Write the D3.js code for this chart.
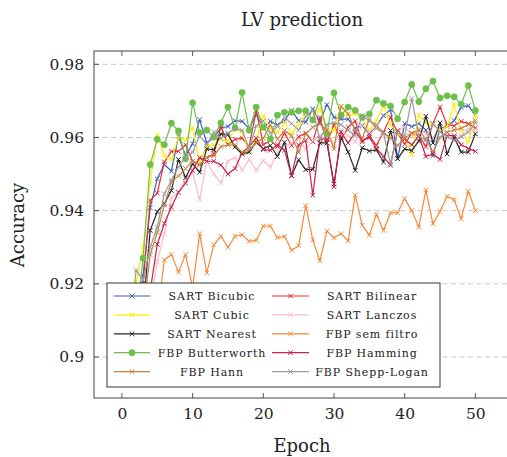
<!DOCTYPE html>
<html>
<head>
<meta charset="utf-8">
<script src="https://cdn.jsdelivr.net/npm/d3@7/dist/d3.min.js"></script>
<style>
  html, body { margin: 0; padding: 0; background: #fff; }
  svg { display: block; }
  text { font-family: "DejaVu Serif", serif; fill: #222; }
</style>
</head>
<body>
<svg id="chart" width="507" height="457"></svg>
<script>
// Training epochs 1..50
const epochs = d3.range(1, 51);

const sartBicubic = [0.900,0.908,0.9224,0.9408,0.9487,0.9526,0.9508,0.9604,0.9550,0.9583,
  0.9649,0.9585,0.9600,0.9626,0.9630,0.9646,0.9644,0.9624,0.9663,0.9628,
  0.9644,0.9635,0.9646,0.9674,0.9646,0.9642,0.9678,0.9642,0.9690,0.9655,
  0.9650,0.9650,0.9625,0.9632,0.9610,0.9632,0.9660,0.9676,0.9542,0.9638,
  0.9630,0.9638,0.9620,0.9550,0.9625,0.9630,0.9646,0.9683,0.9687,0.9660];

const sartBilinear = [0.897,0.906,0.920,0.9428,0.9448,0.9533,0.9562,0.9562,0.9580,0.9535,
  0.9526,0.9545,0.9555,0.9630,0.9580,0.9595,0.9598,0.9575,0.9674,0.9580,
  0.9592,0.9575,0.9612,0.9578,0.9602,0.9612,0.9588,0.9655,0.9585,0.9635,
  0.9595,0.9628,0.9645,0.9588,0.9605,0.9578,0.9615,0.9655,0.9612,0.9582,
  0.9612,0.9605,0.9575,0.9638,0.9683,0.9635,0.9632,0.9644,0.9638,0.9626];

const sartCubic = [0.902,0.9205,0.930,0.9475,0.9608,0.9550,0.9539,0.9601,0.9592,0.9627,
  0.9533,0.9575,0.9580,0.9595,0.9588,0.9625,0.9614,0.9560,0.9592,0.9660,
  0.9623,0.9614,0.9641,0.9610,0.9637,0.9669,0.9646,0.9680,0.9621,0.9619,
  0.9685,0.9660,0.9665,0.9652,0.9620,0.9645,0.9687,0.9635,0.9610,0.9605,
  0.9553,0.9662,0.9641,0.9635,0.9620,0.9630,0.9691,0.9620,0.9587,0.9660];

const sartLanczos = [0.894,0.899,0.905,0.915,0.926,0.9337,0.9435,0.9450,0.9485,0.9505,
  0.9430,0.9535,0.9500,0.9475,0.9535,0.9545,0.9510,0.9540,0.9510,0.9537,
  0.9519,0.9558,0.9572,0.9585,0.9595,0.9568,0.9592,0.9605,0.9615,0.9582,
  0.9620,0.9605,0.9588,0.9635,0.9615,0.9632,0.9610,0.9595,0.9618,0.9630,
  0.9605,0.9625,0.9610,0.9598,0.9628,0.9612,0.9595,0.9605,0.9625,0.9618];

const sartNearest = [0.896,0.903,0.913,0.9346,0.9397,0.9419,0.9455,0.9540,0.9490,0.9528,
  0.9505,0.9569,0.9566,0.9610,0.9608,0.9574,0.9555,0.9560,0.9587,0.9569,
  0.9578,0.9548,0.9587,0.9496,0.9539,0.9512,0.9513,0.9585,0.9585,0.9473,
  0.9600,0.9560,0.9510,0.9572,0.9563,0.9566,0.9533,0.9619,0.9542,0.9569,
  0.9564,0.9590,0.9658,0.9585,0.9640,0.9555,0.9600,0.9560,0.9560,0.9610];

const fbpSemFiltro = [0.894,0.897,0.901,0.905,0.911,0.9265,0.9280,0.9232,0.9280,0.9190,
  0.9337,0.9230,0.9307,0.9330,0.9300,0.9330,0.9334,0.9316,0.9319,0.9358,
  0.9358,0.9326,0.9330,0.9292,0.9304,0.9414,0.9320,0.9263,0.9344,0.9326,
  0.9337,0.9317,0.9443,0.9360,0.9333,0.9390,0.9346,0.9394,0.9394,0.9433,
  0.9400,0.9355,0.9457,0.9364,0.9398,0.9439,0.9430,0.9378,0.9453,0.9400];

const fbpButterworth = [0.903,0.910,0.927,0.9526,0.9595,0.9580,0.9639,0.9618,0.9542,0.9695,
  0.9613,0.9620,0.9601,0.9640,0.9683,0.9626,0.9723,0.9620,0.9683,0.9628,
  0.9596,0.9661,0.9669,0.9669,0.9673,0.9673,0.9648,0.9705,0.9610,0.9722,
  0.9661,0.9683,0.9674,0.9655,0.9664,0.9702,0.9693,0.9686,0.9651,0.9697,
  0.9745,0.9698,0.9733,0.9754,0.9708,0.9714,0.9711,0.9691,0.9742,0.9674];

const fbpHamming = [0.893,0.898,0.905,0.918,0.9308,0.9365,0.9410,0.9450,0.9475,0.9510,
  0.9545,0.9535,0.9535,0.9525,0.9500,0.9515,0.9558,0.9575,0.9598,0.9567,
  0.9565,0.9580,0.9565,0.9495,0.9580,0.9592,0.9442,0.9597,0.9595,0.9465,
  0.9615,0.9585,0.9615,0.9592,0.9600,0.9570,0.9548,0.9524,0.9619,0.9595,
  0.9580,0.9605,0.9548,0.9555,0.9540,0.9605,0.9605,0.9580,0.9570,0.9562];

const fbpHann = [0.895,0.901,0.912,0.928,0.934,0.9415,0.9478,0.9495,0.9515,0.9535,
  0.9525,0.9545,0.9550,0.9575,0.9580,0.9580,0.9560,0.9565,0.9585,0.9598,
  0.9635,0.9595,0.9619,0.9605,0.9560,0.9610,0.9628,0.9637,0.9620,0.9569,
  0.9685,0.9665,0.9620,0.9598,0.9650,0.9625,0.9612,0.9600,0.9578,0.9598,
  0.9612,0.9620,0.9595,0.9560,0.9600,0.9615,0.9620,0.9625,0.9635,0.9646];

const fbpSheppLogan = [0.905,0.9237,0.921,0.930,0.9355,0.9446,0.9483,0.9520,0.9545,0.9560,
  0.9605,0.9580,0.9615,0.9598,0.9612,0.9625,0.9620,0.9570,0.9632,0.9645,
  0.9612,0.9630,0.9655,0.9638,0.9620,0.9658,0.9675,0.9595,0.9635,0.9640,
  0.9635,0.9620,0.9605,0.9660,0.9645,0.9635,0.9612,0.9528,0.9615,0.9605,
  0.9706,0.9605,0.9592,0.9638,0.9615,0.9602,0.9592,0.9602,0.9615,0.9640];

const seriesNames = ["SART Bicubic","SART Bilinear","SART Cubic","SART Lanczos","SART Nearest",
  "FBP sem filtro","FBP Butterworth","FBP Hamming","FBP Hann","FBP Shepp-Logan"];
const seriesValues = [sartBicubic, sartBilinear, sartCubic, sartLanczos, sartNearest,
  fbpSemFiltro, fbpButterworth, fbpHamming, fbpHann, fbpSheppLogan];
const seriesColors = ["#3b5cc4","#ee2a2e","#ffee00","#f7bfc4","#262626",
  "#f5893a","#6cc04a","#c8204b","#c7823f","#9a9a9a"];
const seriesMarkers = ["x","x","x","x","x","x","circle","x","x","x"];

// legend order (two columns, row-major)
const legendOrder = ["SART Bicubic","SART Bilinear","SART Cubic","SART Lanczos","SART Nearest",
  "FBP sem filtro","FBP Butterworth","FBP Hamming","FBP Hann","FBP Shepp-Logan"];

const xTicks = [0,10,20,30,40,50];
const yTicks = [0.90,0.92,0.94,0.96,0.98];

const plot = { left: 94, right: 510, top: 51, bottom: 398 };

const svg = d3.select("#chart");

const x = d3.scaleLinear().domain([-3.95, 54.9]).range([plot.left, plot.right]);
const y = d3.scaleLinear().domain([0.88879, 0.98364]).range([plot.bottom, plot.top]);

svg.append("defs").append("clipPath").attr("id", "plotClip")
  .append("rect").attr("x", plot.left).attr("y", plot.top)
  .attr("width", plot.right - plot.left).attr("height", plot.bottom - plot.top);

// horizontal grid
svg.append("g").selectAll("line").data(yTicks).join("line")
  .attr("x1", plot.left).attr("x2", plot.right)
  .attr("y1", d => y(d)).attr("y2", d => y(d))
  .attr("stroke", "#c8c8c8").attr("stroke-width", 1)
  .attr("stroke-dasharray", "5,3.5");

// series
const lineGen = d3.line().x((d, i) => x(epochs[i])).y(d => y(d));
const marksG = svg.append("g").attr("clip-path", "url(#plotClip)");

function drawMarker(g, type, cx, cy, color) {
  if (type === "circle") {
    g.append("circle").attr("cx", cx).attr("cy", cy).attr("r", 3.1)
      .attr("fill", color).attr("stroke", color).attr("stroke-width", 0.6);
  } else {
    const s = 2.3;
    g.append("path")
      .attr("d", `M${cx-s},${cy-s}L${cx+s},${cy+s}M${cx-s},${cy+s}L${cx+s},${cy-s}`)
      .attr("stroke", color).attr("stroke-width", 1).attr("fill", "none");
  }
}

seriesNames.forEach((name, k) => {
  const vals = seriesValues[k];
  const color = seriesColors[k];
  const g = marksG.append("g");
  g.append("path").datum(vals)
    .attr("d", lineGen)
    .attr("fill", "none").attr("stroke", color).attr("stroke-width", 1.2)
    .attr("stroke-linejoin", "round");
  vals.forEach((v, i) => drawMarker(g, seriesMarkers[k], x(epochs[i]), y(v), color));
});

// frame + ticks
const axisColor = "#444";
const tickLen = 5;
const axisBottom = d3.axisBottom(x).tickValues(xTicks).tickSize(0).tickPadding(10).tickFormat(d3.format("d"));
const gx = svg.append("g").attr("transform", `translate(0,${plot.bottom})`).call(axisBottom);
gx.select(".domain").remove();
gx.selectAll("text").style("font-family", "DejaVu Serif, serif").style("font-size", "15.5px").attr("fill", "#222");

const axisLeft = d3.axisLeft(y).tickValues(yTicks).tickSize(0).tickPadding(10)
  .tickFormat(d => d === 0.9 ? "0.9" : d3.format(".2f")(d));
const gy = svg.append("g").attr("transform", `translate(${plot.left},0)`).call(axisLeft);
gy.select(".domain").remove();
gy.selectAll("text").style("font-family", "DejaVu Serif, serif").style("font-size", "15.5px").attr("fill", "#222");

const ticksG = svg.append("g").attr("stroke", axisColor).attr("stroke-width", 0.9);
xTicks.forEach(t => {
  ticksG.append("line").attr("x1", x(t)).attr("x2", x(t)).attr("y1", plot.bottom).attr("y2", plot.bottom - tickLen);
  ticksG.append("line").attr("x1", x(t)).attr("x2", x(t)).attr("y1", plot.top).attr("y2", plot.top + tickLen);
});
yTicks.forEach(t => {
  ticksG.append("line").attr("x1", plot.left).attr("x2", plot.left + tickLen).attr("y1", y(t)).attr("y2", y(t));
});

svg.append("rect").attr("x", plot.left).attr("y", plot.top)
  .attr("width", plot.right - plot.left).attr("height", plot.bottom - plot.top)
  .attr("fill", "none").attr("stroke", axisColor).attr("stroke-width", 1);

// titles
svg.append("text").attr("x", 302).attr("y", 26).attr("text-anchor", "middle")
  .style("font-size", "18px").text("LV prediction");
svg.append("text").attr("x", 302).attr("y", 452).attr("text-anchor", "middle")
  .style("font-size", "18px").text("Epoch");
svg.append("text").attr("transform", `translate(24,225) rotate(-90)`).attr("text-anchor", "middle")
  .style("font-size", "18px").text("Accuracy");

// legend
const lg = svg.append("g");
const lbox = { x: 107, y: 283, w: 333, h: 104 };
lg.append("rect").attr("x", lbox.x).attr("y", lbox.y).attr("width", lbox.w).attr("height", lbox.h)
  .attr("fill", "#fff").attr("stroke", "#333").attr("stroke-width", 1);
const colLine = [[114, 150], [272, 309]];
const colText = [212, 372];
const rowY0 = 296, rowStep = 18.9;
legendOrder.forEach((name, j) => {
  const k = seriesNames.indexOf(name);
  const col = j % 2, row = Math.floor(j / 2);
  const cy = rowY0 + row * rowStep;
  const [a, b] = colLine[col];
  const color = seriesColors[k];
  lg.append("line").attr("x1", a).attr("x2", b).attr("y1", cy).attr("y2", cy)
    .attr("stroke", color).attr("stroke-width", 1.2);
  drawMarker(lg, seriesMarkers[k], (a + b) / 2, cy, color);
  lg.append("text").attr("x", colText[col]).attr("y", cy + 4).attr("text-anchor", "middle")
    .style("font-size", "11px").style("letter-spacing", "0.9px").text(name);
});
</script>
</body>
</html>
